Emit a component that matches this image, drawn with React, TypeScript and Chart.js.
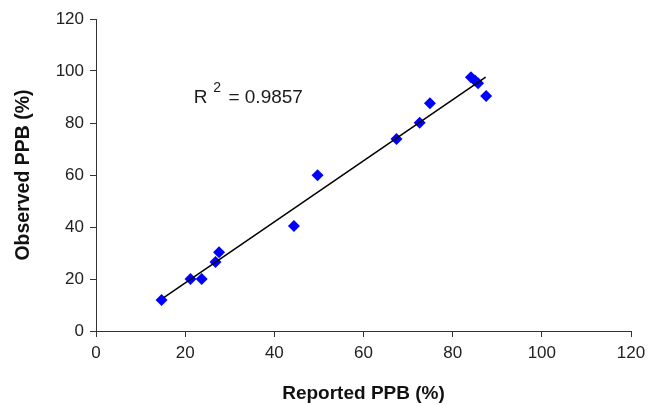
import { useEffect, useRef } from "react";
import { Chart, registerables } from "chart.js";

Chart.register(...registerables);

// Data
const reportedPPB = [14.7, 21.2, 23.7, 26.8, 27.6, 44.4, 49.7, 67.4, 72.6, 74.9, 84.1, 85.0, 85.7, 87.5];
const observedPPB = [11.9, 20.0, 20.0, 26.5, 30.3, 40.4, 59.9, 73.8, 80.1, 87.6, 97.6, 96.3, 95.3, 90.4];
// Trendline end points (as drawn in the reference)
const trendX = [15.2, 87.4];
const trendY = [12.8, 97.6];
// Axis ticks
const axisMin = 0;
const axisMax = 120;
const axisStep = 20;
// Annotation
const rSquaredText = "0.9857";
const annotationX = 21.9;
const annotationY = 87.7;

const FONT = '"Liberation Sans", Arial, Helvetica, sans-serif';

const r2Plugin = {
  id: "r2label",
  afterDatasetsDraw(chart: any) {
    const { ctx, scales } = chart;
    const px = scales.x.getPixelForValue(annotationX);
    const py = scales.y.getPixelForValue(annotationY);
    ctx.save();
    ctx.fillStyle = "#1a1a1a";
    ctx.textAlign = "left";
    ctx.textBaseline = "alphabetic";
    ctx.font = `19px ${FONT}`;
    ctx.fillText("R", px, py);
    let w = ctx.measureText("R").width + 6;
    ctx.font = `14px ${FONT}`;
    ctx.fillText("2", px + w, py - 11);
    w += ctx.measureText("2").width + 2;
    ctx.font = `19px ${FONT}`;
    ctx.fillText(" = " + rSquaredText, px + w, py);
    ctx.restore();
  },
};

export default function App() {
  const ref = useRef<HTMLCanvasElement | null>(null);

  useEffect(() => {
    if (!ref.current) return;
    const chart = new Chart(ref.current, {
      type: "scatter",
      data: {
        datasets: [
          {
            type: "line",
            data: trendX.map((x, i) => ({ x, y: trendY[i] })),
            borderColor: "#000",
            borderWidth: 1.5,
            pointRadius: 0,
            fill: false,
            order: 0,
          } as any,
          {
            data: reportedPPB.map((x, i) => ({ x, y: observedPPB[i] })),
            pointStyle: "rectRot",
            pointRadius: 6,
            backgroundColor: "#0000ff",
            borderColor: "#0000ff",
            borderWidth: 0,
            order: 1,
          },
        ],
      },
      options: {
        responsive: false,
        animation: false,
        layout: { padding: { top: 19, right: 0, left: 0, bottom: 0 } },
        plugins: { legend: { display: false }, tooltip: { enabled: false } },
        scales: {
          x: {
            type: "linear",
            min: axisMin,
            max: axisMax,
            afterFit: (s: any) => {
              s.height = 74;
              s.paddingRight = 17;
              s.paddingLeft = 0;
            },
            ticks: {
              stepSize: axisStep,
              color: "#222",
              font: { family: FONT, size: 17 },
              padding: 6,
            },
            grid: {
              drawOnChartArea: false,
              drawTicks: true,
              tickLength: 6,
              tickColor: "#333",
            },
            border: { display: true, color: "#333", width: 1 },
            title: {
              display: true,
              text: "Reported PPB (%)",
              color: "#111",
              font: { family: FONT, size: 19, weight: "bold" },
              padding: { top: 0, bottom: 0 },
            },
          },
          y: {
            type: "linear",
            min: axisMin,
            max: axisMax,
            afterFit: (s: any) => {
              s.width = 96;
            },
            ticks: {
              stepSize: axisStep,
              color: "#222",
              font: { family: FONT, size: 17 },
              padding: 6,
            },
            grid: {
              drawOnChartArea: false,
              drawTicks: true,
              tickLength: 6,
              tickColor: "#333",
            },
            border: { display: true, color: "#333", width: 1 },
            title: {
              display: true,
              text: "Observed PPB (%)",
              color: "#111",
              font: { family: FONT, size: 19.5, weight: "bold" },
              padding: { top: 12, bottom: 0 },
            },
          },
        },
      },
      plugins: [r2Plugin],
    });
    return () => chart.destroy();
  }, []);

  return (
    <div style={{ position: "absolute", left: 0, top: 0, width: 648, height: 405, background: "#fff" }}>
      <canvas ref={ref} width={648} height={405} style={{ display: "block" }} />
    </div>
  );
}
